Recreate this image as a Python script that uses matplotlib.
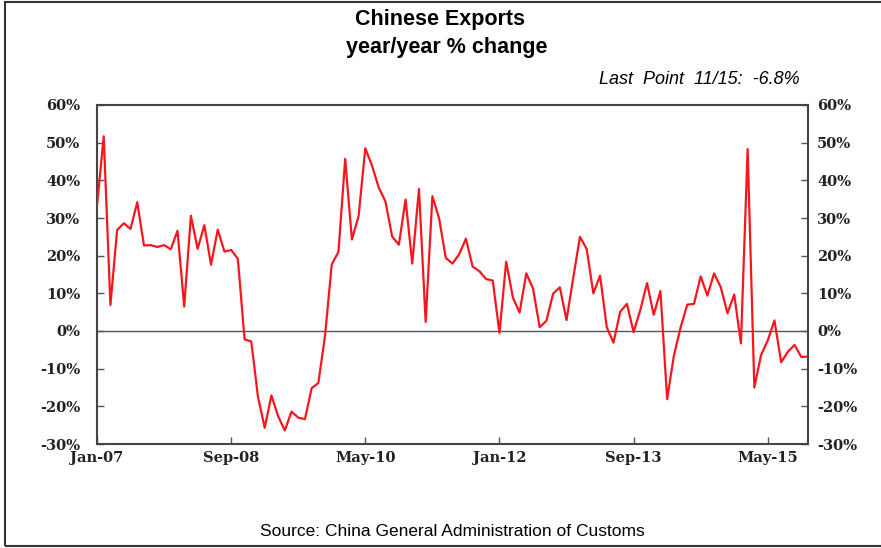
import matplotlib.pyplot as plt
from matplotlib.patches import Rectangle
from matplotlib.transforms import ScaledTranslation
import numpy as np

# monthly y/y % change, Jan-07 .. Nov-15
exports = [
    33.2, 51.7, 6.9, 26.8, 28.6, 27.1, 34.2, 22.7, 22.8, 22.3, 22.8, 21.7,   # 2007
    26.6, 6.5, 30.6, 21.8, 28.1, 17.6, 26.9, 21.1, 21.5, 19.2, -2.2, -2.8,   # 2008
    -17.5, -25.7, -17.1, -22.6, -26.4, -21.4, -23.0, -23.4, -15.2, -13.8, -1.2, 17.7,  # 2009
    21.0, 45.7, 24.3, 30.5, 48.5, 43.9, 38.1, 34.4, 25.1, 22.9, 34.9, 17.9,  # 2010
    37.7, 2.4, 35.8, 29.9, 19.4, 17.9, 20.4, 24.5, 17.1, 15.9, 13.8, 13.4,   # 2011
    -0.5, 18.4, 8.9, 4.9, 15.3, 11.3, 1.0, 2.7, 9.9, 11.6, 2.9, 14.1,        # 2012
    25.0, 21.8, 10.0, 14.7, 1.0, -3.1, 5.1, 7.2, -0.3, 5.6, 12.7, 4.3,       # 2013
    10.6, -18.1, -6.6, 0.9, 7.0, 7.2, 14.5, 9.4, 15.3, 11.6, 4.7, 9.7,       # 2014
    -3.3, 48.3, -15.0, -6.4, -2.5, 2.8, -8.3, -5.5, -3.7, -6.9, -6.8,        # 2015
]
tick_months = [0, 20, 40, 60, 80, 100]
tick_labels = ["Jan-07", "Sep-08", "May-10", "Jan-12", "Sep-13", "May-15"]
y_ticks = [-30, -20, -10, 0, 10, 20, 30, 40, 50, 60]

months = np.arange(len(exports))

fig = plt.figure(figsize=(8.81, 5.48), dpi=100)
ax = fig.add_axes([97 / 881, 1 - 444 / 548, 711 / 881, 339 / 548])

ax.plot(months, exports, color="#f5161e", lw=1.6, zorder=3)
ax.axhline(0, color="#555555", lw=1.0, zorder=2)

ax.set_xlim(0, len(exports) - 1)
ax.set_ylim(-30, 60)

tick_font = dict(family="DejaVu Serif", weight="bold", size=10.5, color="#222222")
ax.set_xticks(tick_months)
ax.set_xticklabels(tick_labels, **tick_font)
ax.set_yticks(y_ticks)
ax.set_yticklabels([f"{v}%" for v in y_ticks], **tick_font)
ax.tick_params(axis="x", direction="in", length=5, width=1, color="#555555", pad=5)
ax.tick_params(axis="y", direction="in", length=5, width=1, color="#555555", pad=12,
               left=True, right=True, labelleft=True, labelright=True)

for s in ax.spines.values():
    s.set_color("#444444")
    s.set_linewidth(1.5)

# right labels sit closer to the axis than the left ones
shift = ax.get_yaxis_transform() + ScaledTranslation(9 / 100, 0, fig.dpi_scale_trans)
for t in ax.yaxis.get_major_ticks():
    t.label2.set(family="DejaVu Serif", weight="bold", size=10.5, color="#222222")
    t.label2.set_transform(shift)

fig.text(440 / 881, 1 - 20 / 548, "Chinese Exports", ha="center", va="center",
         family="Liberation Sans", weight="bold", size=15.5)
fig.text(447 / 881, 1 - 47 / 548, "year/year % change", ha="center", va="center",
         family="Liberation Sans", weight="bold", size=15.5)
fig.text(800 / 881, 1 - 80 / 548, "Last  Point  11/15:  -6.8%", ha="right", va="center",
         family="Liberation Sans", style="italic", size=13)
fig.text(452 / 881, 1 - 532 / 548, "Source: China General Administration of Customs",
         ha="center", va="center", family="Liberation Sans", size=12.5)

# outer frame, cut off on the right like the original
fig.patches.append(Rectangle((5 / 881, 2 / 548), 1.0, 544 / 548, transform=fig.transFigure,
                             fill=False, edgecolor="#333333", lw=1.5, clip_on=False))

fig.savefig("out.png", dpi=100, facecolor="white")
